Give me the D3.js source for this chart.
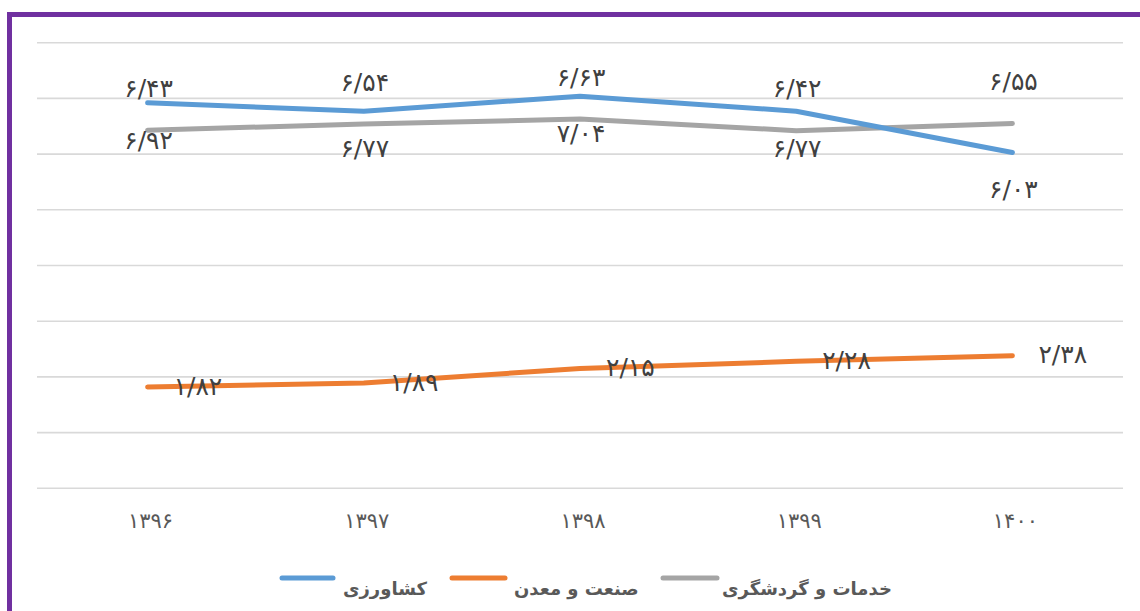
<!DOCTYPE html>
<html>
<head>
<meta charset="utf-8">
<script src="https://cdn.jsdelivr.net/npm/d3@7"></script>
<style>
  body { margin: 0; background: #fff; }
  svg { display: block; }
</style>
</head>
<body>
<div id="plot"></div>
<script>
// years and series
var years = ["۱۳۹۶", "۱۳۹۷", "۱۳۹۸", "۱۳۹۹", "۱۴۰۰"];
var keshavarzi = [6.92, 6.77, 7.04, 6.77, 6.03];
var sanat = [1.82, 1.89, 2.15, 2.28, 2.38];
var khadamat = [6.43, 6.54, 6.63, 6.42, 6.55];
var seriesNames = ["کشاورزی", "صنعت و معدن", "خدمات و گردشگری"];
var yTicks = [0, 1, 2, 3, 4, 5, 6, 7, 8];

var colors = ["#5b9bd5", "#ed7d31", "#a5a5a5"];
var W = 1140, H = 611;

function fa(v) {
  // persian digits with slash as decimal mark
  var s = v.toFixed(2).replace(".", "/");
  return s.replace(/[0-9]/g, function(c) { return "۰۱۲۳۴۵۶۷۸۹"[+c]; });
}

var svg = d3.select("#plot").append("svg")
    .attr("width", W)
    .attr("height", H);

svg.append("rect")
    .attr("x", 9.5).attr("y", 14.5)
    .attr("width", W + 20).attr("height", H + 20)
    .attr("fill", "#fff")
    .attr("stroke", "#7030a0")
    .attr("stroke-width", 5);

var x = d3.scalePoint().domain(years).range([39.5, 1120.5]).padding(0.5);
var y = d3.scaleLinear().domain([0, 8]).range([488.3, 42.7]);

// gridlines
svg.append("g").selectAll("line")
  .data(yTicks)
  .join("line")
    .attr("x1", 37).attr("x2", 1123)
    .attr("y1", d => y(d)).attr("y2", d => y(d))
    .attr("stroke", "#d9d9d9")
    .attr("stroke-width", 1.6);

// x labels
svg.append("g").selectAll("text")
  .data(years)
  .join("text")
    .attr("x", d => x(d) + 3)
    .attr("y", 521)
    .attr("dy", "0.35em")
    .attr("text-anchor", "middle")
    .attr("fill", "#595959")
    .style("font-family", "DejaVu Sans")
    .style("font-size", "21px")
    .text(d => d);

var line = d3.line()
    .x((d, i) => x(years[i]))
    .y(d => y(d));

var allSeries = [keshavarzi, sanat, khadamat];
// gray first, then orange, blue on top
[2, 1, 0].forEach(function(k) {
  svg.append("path")
    .datum(allSeries[k])
    .attr("d", line)
    .attr("fill", "none")
    .attr("stroke", colors[k])
    .attr("stroke-width", 5)
    .attr("stroke-linecap", "round")
    .attr("stroke-linejoin", "round");
});

function labels(vals, dx, dy, anchor) {
  svg.append("g").selectAll("text")
    .data(vals)
    .join("text")
      .attr("x", (d, i) => x(years[i]) + dx)
      .attr("y", d => y(d) + dy)
      .attr("dy", "0.35em")
      .attr("text-anchor", anchor)
      .attr("direction", "ltr")
      .attr("fill", "#404040")
      .style("font-family", "DejaVu Sans")
      .style("font-size", "25px")
      .text(d => fa(d));
}
labels(khadamat, 1, -42, "middle");
labels(keshavarzi, 1, 37, "middle");
labels(sanat, 26, -1, "start");

// legend
var legendX = [[282, 333, 343], [452, 505, 514], [663, 717, 722]];
var lg = svg.append("g");
seriesNames.forEach(function(name, i) {
  lg.append("line")
    .attr("x1", legendX[i][0]).attr("x2", legendX[i][1])
    .attr("y1", 578).attr("y2", 578)
    .attr("stroke", colors[i])
    .attr("stroke-width", 5)
    .attr("stroke-linecap", "round");
  lg.append("text")
    .attr("x", legendX[i][2])
    .attr("y", 589)
    .attr("dy", "0.35em")
    .attr("text-anchor", "start")
    .attr("fill", "#595959")
    .style("font-family", "DejaVu Sans")
    .style("font-weight", "bold")
    .style("font-size", "18px")
    .text(name);
});
</script>
</body>
</html>
